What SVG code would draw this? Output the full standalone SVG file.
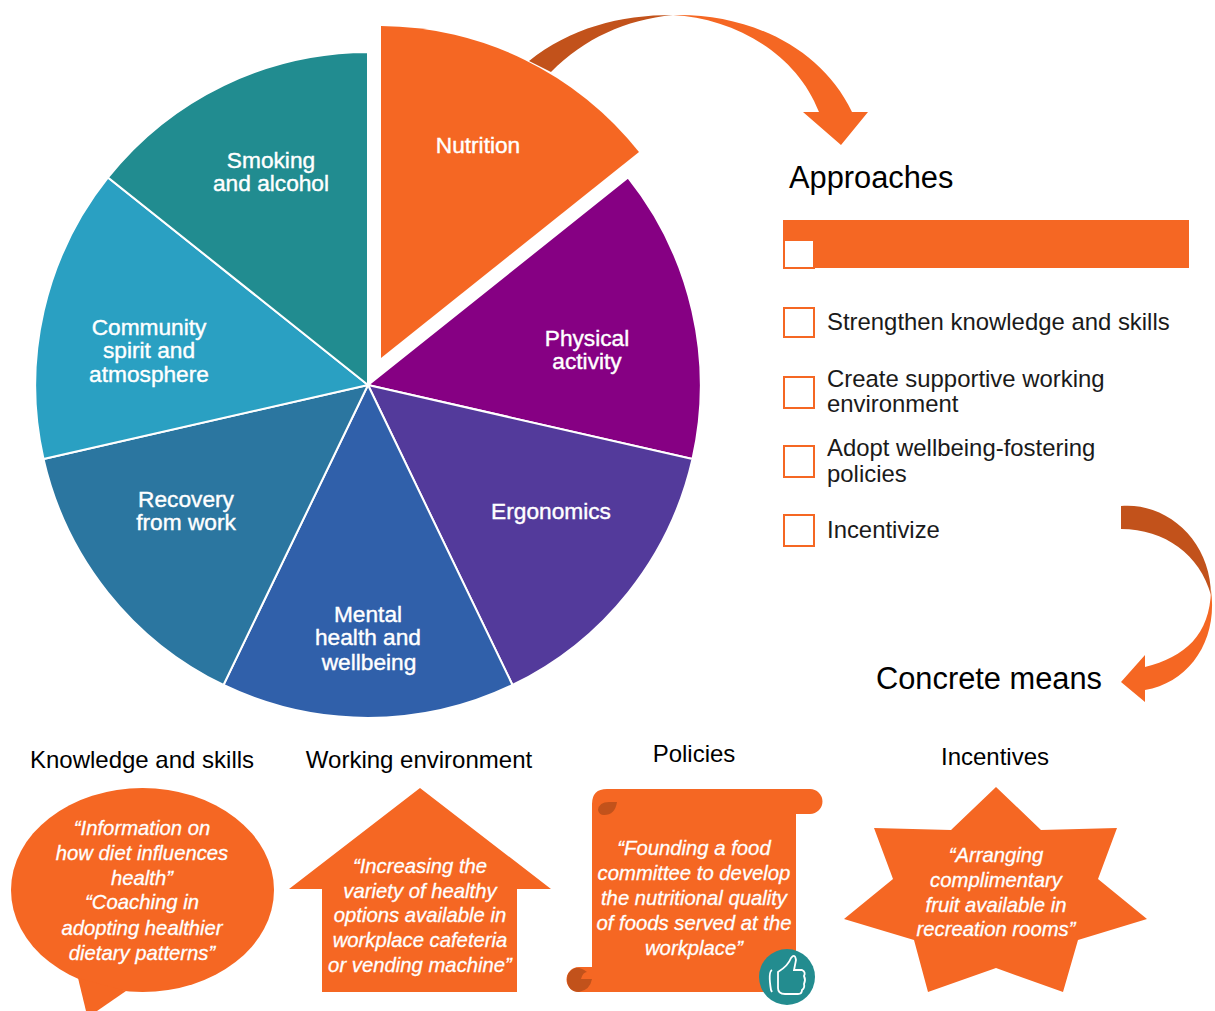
<svg xmlns="http://www.w3.org/2000/svg" width="1215" height="1011" viewBox="0 0 1215 1011">
<style>
text{font-family:"Liberation Sans",Arial,sans-serif}
.s{stroke:#fff;stroke-width:2}
.o{fill:#F56723}
.d{fill:#C2521B}
.p{fill:#fff;font-size:22.700px;text-anchor:middle;stroke:#fff;stroke-width:.4}
.q{fill:#fff;font-size:20.300px;font-style:italic;text-anchor:middle;stroke:#fff;stroke-width:.3}
.l{fill:#1a1a1a;font-size:23.900px}
.h{fill:#000;font-size:24px;text-anchor:middle}
.t{fill:#000;font-size:30.800px}
.c{fill:#fff;stroke:#F56723;stroke-width:2}
</style>
<rect width="1215" height="1011" fill="#fff"/>
<g id="connectors">
<path class="d" d="M529,61 C570,28 620,15 673,15 C625,20 585,38 551,72Z"/>
<path class="o" d="M673,15 C745,13 820,45 852,112 H868 L841,145 L803,112 H819 C795,50 730,18 673,15Z"/>
<path class="d" d="M1121,506 C1168,502 1211,542 1211,595 C1200,555 1165,529 1121,529Z"/>
<path class="o" d="M1211,590 C1218,640 1190,682 1145,690 V702 L1121,682 L1145,655 V667 C1185,657 1210,635 1211,590Z"/>
</g>
<g id="nutrition"><path class="o" d="M381,358 V26 A332,332 0 0 1 639,152Z"/><text class="p" x="478" y="153">Nutrition</text></g>
<g id="physical"><path class="s" fill="#860083" d="M368,385 L628,177.500 A333,333 0 0 1 692.500,459Z"/><text class="p" x="587" y="346">Physical</text><text class="p" x="587" y="369">activity</text></g>
<g id="ergonomics"><path class="s" fill="#533A9B" d="M368,385 L692.500,459 A333,333 0 0 1 512.500,685Z"/><text class="p" x="551" y="519">Ergonomics</text></g>
<g id="mental"><path class="s" fill="#3060AA" d="M368,385 L512.500,685 A333,333 0 0 1 223.500,685Z"/><text class="p" x="368" y="622">Mental</text><text class="p" x="368" y="645">health and</text><text class="p" x="369" y="670">wellbeing</text></g>
<g id="recovery"><path class="s" fill="#2B76A0" d="M368,385 L223.500,685 A333,333 0 0 1 43.500,459Z"/><text class="p" x="186" y="507">Recovery</text><text class="p" x="186" y="530">from work</text></g>
<g id="community"><path class="s" fill="#2AA0C2" d="M368,385 L43.500,459 A333,333 0 0 1 108,177.500Z"/><text class="p" x="149" y="335">Community</text><text class="p" x="149" y="358">spirit and</text><text class="p" x="149" y="382">atmosphere</text></g>
<g id="smoking"><path class="s" fill="#218C90" d="M368,385 L108,177.500 A333,333 0 0 1 368,52Z"/><text class="p" x="271" y="168">Smoking</text><text class="p" x="271" y="191">and alcohol</text></g>
<g id="approaches">
<text class="t" x="789" y="188">Approaches</text>
<rect class="o" x="783" y="220" width="406" height="48"/>
<rect class="c" x="784" y="240" width="30" height="28"/>
<rect class="c" x="784" y="308" width="30" height="29"/><text class="l" x="827" y="330">Strengthen knowledge and skills</text>
<rect class="c" x="784" y="377" width="30" height="31"/><text class="l" x="827" y="387">Create supportive working</text><text class="l" x="827" y="412">environment</text>
<rect class="c" x="784" y="446" width="30" height="31"/><text class="l" x="827" y="456">Adopt wellbeing-fostering</text><text class="l" x="827" y="482">policies</text>
<rect class="c" x="784" y="515" width="30" height="31"/><text class="l" x="827" y="538">Incentivize</text>
</g>
<g id="concrete-means"><text class="t" x="876" y="689">Concrete means</text></g>
<g id="knowledge">
<text class="h" x="142" y="768">Knowledge and skills</text>
<ellipse class="o" cx="142.500" cy="890" rx="131.500" ry="102"/>
<path class="o" d="M78,978 L86,1011 H97 L126,991Z"/>
<text class="q" x="142" y="835">“Information on</text><text class="q" x="142" y="860">how diet influences</text><text class="q" x="142" y="885">health”</text><text class="q" x="142" y="909">“Coaching in</text><text class="q" x="142" y="935">adopting healthier</text><text class="q" x="142" y="960">dietary patterns”</text>
</g>
<g id="environment">
<text class="h" x="419" y="768">Working environment</text>
<path class="o" d="M420,788 L551,889 H517 V992 H322 V889 H289Z"/>
<text class="q" x="420" y="873">“Increasing the</text><text class="q" x="420" y="898">variety of healthy</text><text class="q" x="420" y="922">options available in</text><text class="q" x="420" y="947">workplace cafeteria</text><text class="q" x="420" y="972">or vending machine”</text>
</g>
<g id="policies">
<text class="h" x="694" y="762">Policies</text>
<path class="o" d="M592,967 V804 Q592,789 607,789 H810 A12.500,12.500 0 0 1 810,814 H796 V992 H579 A12.500,12.500 0 0 1 579,967Z"/>
<path class="d" d="M598,810 Q599,802 609,802 H617 Q615,815 604,815 Q599,815 598,810Z"/>
<path class="d" d="M592,979 H581 Q583,972 587,972 Q580,967 575,968 Q567,971 567,980 Q568,992 579,992 Q590,990 592,979Z"/>
<text class="q" x="694" y="855">“Founding a food</text><text class="q" x="694" y="880">committee to develop</text><text class="q" x="694" y="905">the nutritional quality</text><text class="q" x="694" y="930">of foods served at the</text><text class="q" x="694" y="955">workplace”</text>
<circle cx="787" cy="977" r="28" fill="#238C8F"/>
<path d="M778,972 Q788,966 791,958 Q795,953 796,960 L794,970 H802 Q806,972 804,976 Q806,980 804,984 Q805,988 802,990 Q802,994 798,994 H785 Q778,994 778,988Z M772,970 Q768,972 771,990 L772,992" fill="none" stroke="#fff" stroke-width="1.800"/>
</g>
<g id="incentives">
<text class="h" x="995" y="765">Incentives</text>
<path class="o" d="M996,787 L1041,830 L1117,828 L1098,879 L1147,919 L1078,940 L1063,992 L996,968 L928,992 L914,940 L844,919 L893,879 L874,828 L951,830Z"/>
<text class="q" x="996" y="862">“Arranging</text><text class="q" x="996" y="887">complimentary</text><text class="q" x="996" y="912">fruit available in</text><text class="q" x="996" y="936">recreation rooms”</text>
</g>
</svg>
